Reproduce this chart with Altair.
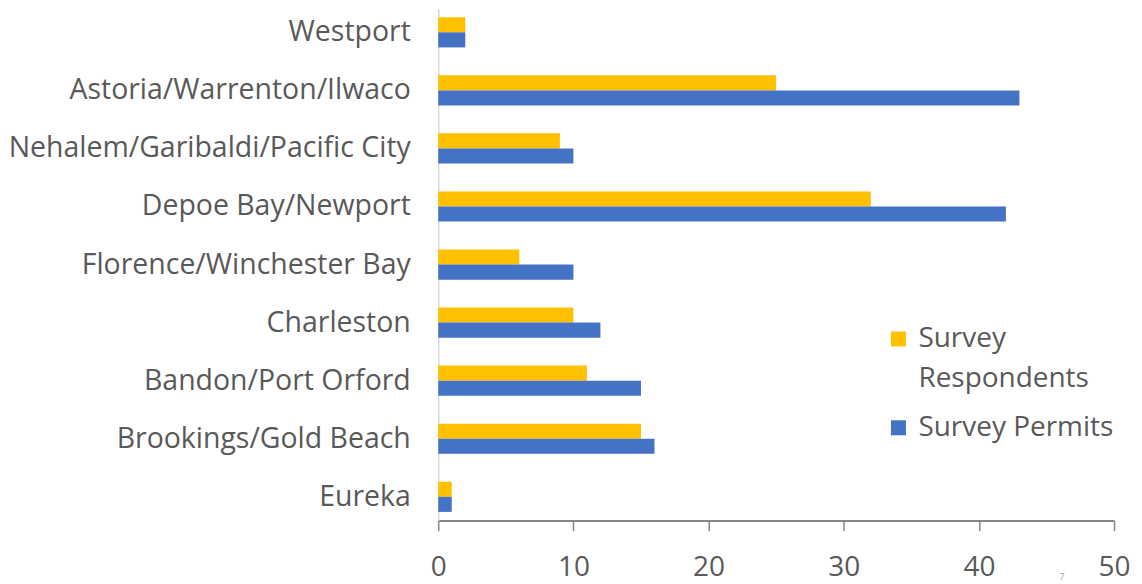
import altair as alt
import pandas as pd

ports = [
    "Westport",
    "Astoria/Warrenton/Ilwaco",
    "Nehalem/Garibaldi/Pacific City",
    "Depoe Bay/Newport",
    "Florence/Winchester Bay",
    "Charleston",
    "Bandon/Port Orford",
    "Brookings/Gold Beach",
    "Eureka",
]
respondents = [2, 25, 9, 32, 6, 10, 11, 15, 1]
permits = [2, 43, 10, 42, 10, 12, 15, 16, 1]
series = ["Survey Respondents", "Survey Permits"]
colors = ["#FFC000", "#4472C4"]
x_ticks = [0, 10, 20, 30, 40, 50]

rows = []
for p, r, m in zip(ports, respondents, permits):
    rows.append({"port": p, "series": series[0], "value": r})
    rows.append({"port": p, "series": series[1], "value": m})
df = pd.DataFrame(rows)

FONT = "Open Sans"
GRAY = "#595959"

bars = alt.Chart(df).mark_bar().encode(
    y=alt.Y(
        "port:N",
        sort=ports,
        title=None,
        scale=alt.Scale(paddingInner=0.48, paddingOuter=0.15),
        axis=alt.Axis(
            domainColor="#D9D9D9",
            domainWidth=1.5,
            ticks=False,
            labelFont=FONT,
            labelFontSize=28.5,
            labelColor=GRAY,
            labelPadding=28,
            labelLimit=500,
        ),
    ),
    yOffset=alt.YOffset("series:N", sort=series),
    x=alt.X(
        "value:Q",
        title=None,
        scale=alt.Scale(domain=[0, 50], nice=False),
        axis=alt.Axis(
            values=x_ticks,
            grid=False,
            domainColor="#868686",
            domainWidth=2,
            tickColor="#868686",
            tickWidth=1.5,
            tickSize=10,
            labelFont=FONT,
            labelFontSize=28,
            labelColor=GRAY,
            labelPadding=23,
            labelFlush=False,
        ),
    ),
    color=alt.Color(
        "series:N",
        sort=series,
        scale=alt.Scale(domain=series, range=colors),
        legend=alt.Legend(
            title=None,
            orient="none",
            legendX=447,
            legendY=317,
            symbolType="square",
            symbolSize=225,
            symbolStrokeWidth=0,
            labelFont=FONT,
            labelFontSize=28,
            labelColor=GRAY,
            labelOffset=6,
            labelLimit=400,
            rowPadding=21,
            labelExpr="datum.label == 'Survey Respondents' ? ['Survey', 'Respondents'] : datum.label",
        ),
    ),
)

page_no = alt.Chart(pd.DataFrame({"t": ["7"]})).mark_text(
    font=FONT, fontSize=9, color="#A6A6A6"
).encode(text="t:N", x=alt.value(625), y=alt.value(569))

chart = (
    alt.layer(bars, page_no)
    .properties(
        width=677,
        height=513,
        autosize=alt.AutoSizeParams(type="none"),
        padding={"left": 431, "top": 0, "right": 20, "bottom": 70},
    )
    .configure(style={"guide-label": {"lineHeight": 40}})
    .configure_view(stroke=None)
)

chart.save("out.html", embed_options={"renderer": "svg", "actions": False})
